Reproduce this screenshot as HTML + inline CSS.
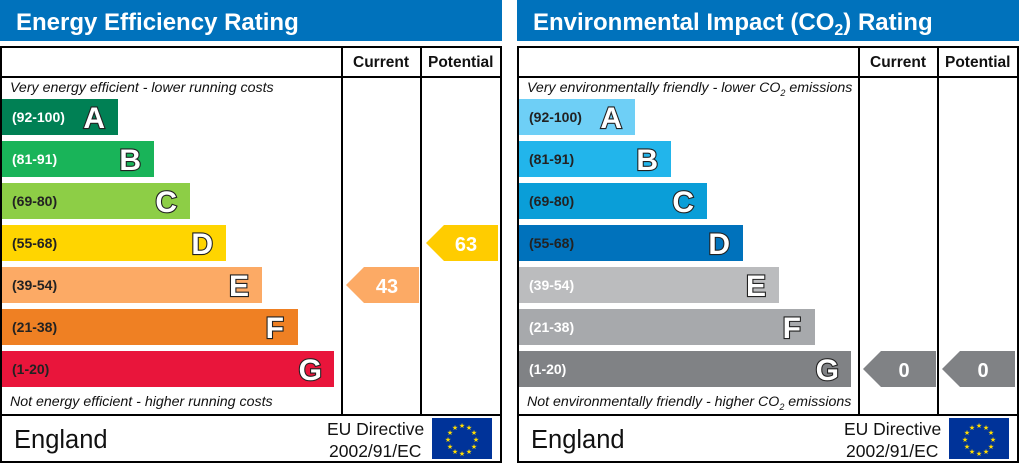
<!DOCTYPE html>
<html><head><meta charset="utf-8"><style>
body{margin:0;background:#fff}
svg{display:block}
text{font-family:"Liberation Sans",sans-serif}
.lt{font-weight:bold;font-size:30px;fill:#fff;stroke:#222;stroke-width:2.2;paint-order:stroke}
.rg{font-weight:bold;font-size:14px;fill:#fff}
.num{font-weight:bold;font-size:20px;fill:#fff}
.hd{font-weight:bold;font-size:15.5px;fill:#111}
.it{font-style:italic;font-size:14.2px;fill:#111}
.st{fill:#ffdd00;font-size:7px}
</style></head><body>
<svg width="1020" height="464" viewBox="0 0 1020 464">
<defs>
<g id="frame">
<rect x="0" y="0" width="502" height="41" fill="#0072bc"/>
<rect x="1" y="47" width="500" height="415" fill="none" stroke="#000" stroke-width="2"/>
<line x1="0" y1="77" x2="502" y2="77" stroke="#000" stroke-width="2"/>
<line x1="0" y1="415" x2="502" y2="415" stroke="#000" stroke-width="2"/>
<line x1="342" y1="47" x2="342" y2="415" stroke="#000" stroke-width="2"/>
<line x1="421" y1="47" x2="421" y2="415" stroke="#000" stroke-width="2"/>
<text class="hd" x="353" y="67">Current</text>
<text class="hd" x="428" y="67">Potential</text>
<text x="14" y="448" font-size="25.5" fill="#111">England</text>
<text x="327" y="435" font-size="17.5" fill="#111">EU Directive</text>
<text x="329" y="457" font-size="17.5" fill="#111">2002/91/EC</text>
<rect x="432" y="418" width="60" height="41" fill="#003399"/>
<g class="st" text-anchor="middle">
<text x="462" y="428">★</text><text x="469" y="430">★</text><text x="474" y="435">★</text>
<text x="476" y="442">★</text><text x="474" y="449">★</text><text x="469" y="454">★</text>
<text x="462" y="456">★</text><text x="455" y="454">★</text><text x="450" y="449">★</text>
<text x="448" y="442">★</text><text x="450" y="435">★</text><text x="455" y="430">★</text>
</g>
</g>
</defs>

<!-- LEFT -->
<use href="#frame"/>
<text x="16" y="30" font-size="24" font-weight="bold" fill="#fff">Energy Efficiency Rating</text>
<text class="it" x="10" y="92">Very energy efficient - lower running costs</text>
<text class="it" x="10" y="406">Not energy efficient - higher running costs</text>
<rect x="2" y="99" width="116" height="36" fill="#008054"/>
<rect x="2" y="141" width="152" height="36" fill="#19b459"/>
<rect x="2" y="183" width="188" height="36" fill="#8dce46"/>
<rect x="2" y="225" width="224" height="36" fill="#ffd500"/>
<rect x="2" y="267" width="260" height="36" fill="#fcaa65"/>
<rect x="2" y="309" width="296" height="36" fill="#ef8023"/>
<rect x="2" y="351" width="332" height="36" fill="#e9153b"/>
<text class="rg" x="12" y="122">(92-100)</text>
<text class="rg" x="12" y="164">(81-91)</text>
<text class="rg" x="12" y="206" style="fill:#222">(69-80)</text>
<text class="rg" x="12" y="248" style="fill:#222">(55-68)</text>
<text class="rg" x="12" y="290" style="fill:#222">(39-54)</text>
<text class="rg" x="12" y="332" style="fill:#222">(21-38)</text>
<text class="rg" x="12" y="374" style="fill:#222">(1-20)</text>
<g class="lt" text-anchor="end">
<text x="105" y="128">A</text><text x="141" y="170">B</text><text x="177" y="212">C</text>
<text x="213" y="254">D</text><text x="249" y="296">E</text><text x="284" y="338">F</text>
<text x="322" y="380">G</text></g>
<polygon points="346,285 364,267 419,267 419,303 364,303" fill="#fcaa65"/>
<text x="387" y="293" class="num" text-anchor="middle">43</text>
<polygon points="426,243 444,225 498,225 498,261 444,261" fill="#ffcc00"/>
<text x="466" y="251" class="num" text-anchor="middle">63</text>

<!-- RIGHT -->
<g transform="translate(517,0)">
<use href="#frame"/>
<text x="16" y="30" font-size="24" font-weight="bold" fill="#fff">Environmental Impact (CO<tspan font-size="16" dy="5">2</tspan><tspan dy="-5">) Rating</tspan></text>
<text class="it" x="10" y="92">Very environmentally friendly - lower CO<tspan font-size="9" dy="4">2</tspan><tspan dy="-4"> emissions</tspan></text>
<text class="it" x="10" y="406">Not environmentally friendly - higher CO<tspan font-size="9" dy="4">2</tspan><tspan dy="-4"> emissions</tspan></text>
<rect x="2" y="99" width="116" height="36" fill="#6ecff6"/>
<rect x="2" y="141" width="152" height="36" fill="#22b5eb"/>
<rect x="2" y="183" width="188" height="36" fill="#0a9ed8"/>
<rect x="2" y="225" width="224" height="36" fill="#0072bc"/>
<rect x="2" y="267" width="260" height="36" fill="#bbbcbe"/>
<rect x="2" y="309" width="296" height="36" fill="#a7a9ac"/>
<rect x="2" y="351" width="332" height="36" fill="#808285"/>
<text class="rg" x="12" y="122" style="fill:#222">(92-100)</text>
<text class="rg" x="12" y="164" style="fill:#222">(81-91)</text>
<text class="rg" x="12" y="206" style="fill:#222">(69-80)</text>
<text class="rg" x="12" y="248" style="fill:#222">(55-68)</text>
<text class="rg" x="12" y="290">(39-54)</text>
<text class="rg" x="12" y="332">(21-38)</text>
<text class="rg" x="12" y="374">(1-20)</text>
<g class="lt" text-anchor="end">
<text x="105" y="128">A</text><text x="141" y="170">B</text><text x="177" y="212">C</text>
<text x="213" y="254">D</text><text x="249" y="296">E</text><text x="284" y="338">F</text>
<text x="322" y="380">G</text></g>
<polygon points="346,369 364,351 419,351 419,387 364,387" fill="#808285"/>
<text x="387" y="377" class="num" text-anchor="middle">0</text>
<polygon points="425,369 443,351 498,351 498,387 443,387" fill="#808285"/>
<text x="466" y="377" class="num" text-anchor="middle">0</text>
</g>
</svg>
</body></html>
